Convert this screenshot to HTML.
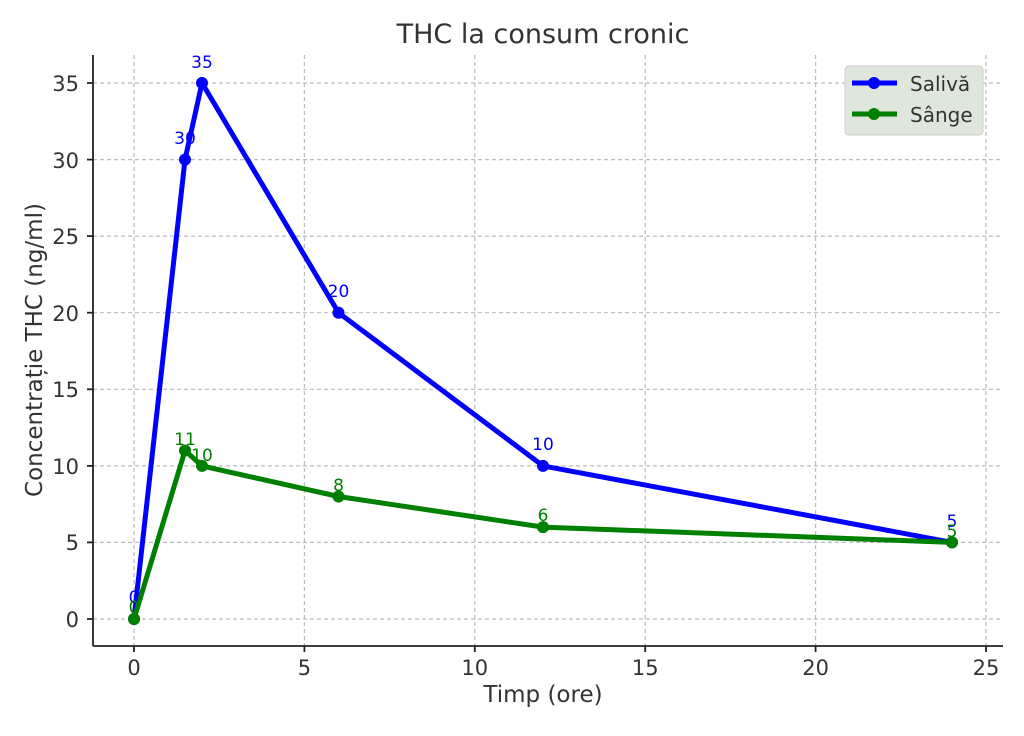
<!DOCTYPE html>
<html><head><meta charset="utf-8"><style>body{margin:0;background:#fff}</style></head><body>
<svg width="1024" height="731" xmlns="http://www.w3.org/2000/svg" font-family="DejaVu Sans, Liberation Sans, sans-serif">
<rect width="1024" height="731" fill="#fff"/>
<g stroke="#bbb" stroke-width="1.2" stroke-dasharray="4,3">
<line x1="134" y1="55" x2="134" y2="646"/><line x1="304.4" y1="55" x2="304.4" y2="646"/><line x1="474.8" y1="55" x2="474.8" y2="646"/><line x1="645.2" y1="55" x2="645.2" y2="646"/><line x1="815.6" y1="55" x2="815.6" y2="646"/><line x1="986" y1="55" x2="986" y2="646"/>
<line x1="93" y1="619" x2="1003" y2="619"/><line x1="93" y1="542.4" x2="1003" y2="542.4"/><line x1="93" y1="465.9" x2="1003" y2="465.9"/><line x1="93" y1="389.3" x2="1003" y2="389.3"/><line x1="93" y1="312.7" x2="1003" y2="312.7"/><line x1="93" y1="236.1" x2="1003" y2="236.1"/><line x1="93" y1="159.6" x2="1003" y2="159.6"/><line x1="93" y1="83" x2="1003" y2="83"/>
</g>
<g stroke="#222" stroke-width="1.8"><line x1="93" y1="55" x2="93" y2="646"/><line x1="93" y1="646" x2="1003" y2="646"/>
<line x1="134" y1="646" x2="134" y2="652"/><line x1="304.4" y1="646" x2="304.4" y2="652"/><line x1="474.8" y1="646" x2="474.8" y2="652"/><line x1="645.2" y1="646" x2="645.2" y2="652"/><line x1="815.6" y1="646" x2="815.6" y2="652"/><line x1="986" y1="646" x2="986" y2="652"/>
<line x1="87" y1="619" x2="93" y2="619"/><line x1="87" y1="542.4" x2="93" y2="542.4"/><line x1="87" y1="465.9" x2="93" y2="465.9"/><line x1="87" y1="389.3" x2="93" y2="389.3"/><line x1="87" y1="312.7" x2="93" y2="312.7"/><line x1="87" y1="236.1" x2="93" y2="236.1"/><line x1="87" y1="159.6" x2="93" y2="159.6"/><line x1="87" y1="83" x2="93" y2="83"/></g>
<g font-size="21" fill="#333" text-anchor="middle">
<text x="134" y="675">0</text><text x="304.4" y="675">5</text><text x="474.8" y="675">10</text><text x="645.2" y="675">15</text><text x="815.6" y="675">20</text><text x="986" y="675">25</text></g>
<g font-size="21" fill="#333" text-anchor="end">
<text x="79" y="627">0</text><text x="79" y="550">5</text><text x="79" y="474">10</text><text x="79" y="397">15</text><text x="79" y="321">20</text><text x="79" y="244">25</text><text x="79" y="168">30</text><text x="79" y="91">35</text></g>
<text x="543" y="43" font-size="27" fill="#333" text-anchor="middle">THC la consum cronic</text>
<text x="543" y="702" font-size="23" fill="#333" text-anchor="middle">Timp (ore)</text>
<text transform="translate(42,350) rotate(-90)" font-size="23" fill="#333" text-anchor="middle">Concentrație THC (ng/ml)</text>
<polyline points="134,619 185,159.6 202,83 338.5,312.7 543,465.9 952,542.4" fill="none" stroke="#0000ff" stroke-width="5"/>
<g fill="#0000ff"><circle cx="134" cy="619" r="6"/><circle cx="185" cy="159.6" r="6"/><circle cx="202" cy="83" r="6"/><circle cx="338.5" cy="312.7" r="6"/><circle cx="543" cy="465.9" r="6"/><circle cx="952" cy="542.4" r="6"/></g>
<polyline points="134,619 185,450.5 202,465.9 338.5,496.5 543,527.1 952,542.4" fill="none" stroke="#008000" stroke-width="5"/>
<g fill="#008000"><circle cx="134" cy="619" r="6"/><circle cx="185" cy="450.5" r="6"/><circle cx="202" cy="465.9" r="6"/><circle cx="338.5" cy="496.5" r="6"/><circle cx="543" cy="527.1" r="6"/><circle cx="952" cy="542.4" r="6"/></g>
<g font-size="17" fill="#0000ff" text-anchor="middle"><text x="134" y="603">0</text><text x="185" y="144">30</text><text x="202" y="68">35</text><text x="338.5" y="297">20</text><text x="543" y="450">10</text><text x="952" y="527">5</text></g>
<g font-size="17" fill="#008000" text-anchor="middle"><text x="134" y="613">0</text><text x="185" y="445">11</text><text x="202" y="461">10</text><text x="338.5" y="491">8</text><text x="543" y="521">6</text><text x="952" y="537">5</text></g>
<rect x="845" y="66" width="138" height="69" rx="4" fill="#dfe6dc" stroke="#ccc"/>
<line x1="852" y1="83" x2="897" y2="83" stroke="#0000ff" stroke-width="5"/><circle cx="874" cy="83" r="6" fill="#0000ff"/>
<line x1="852" y1="114" x2="897" y2="114" stroke="#008000" stroke-width="5"/><circle cx="874" cy="114" r="6" fill="#008000"/>
<text x="910" y="91" font-size="20" fill="#333">Salivă</text><text x="910" y="122" font-size="20" fill="#333">Sânge</text>
</svg>
</body></html>
